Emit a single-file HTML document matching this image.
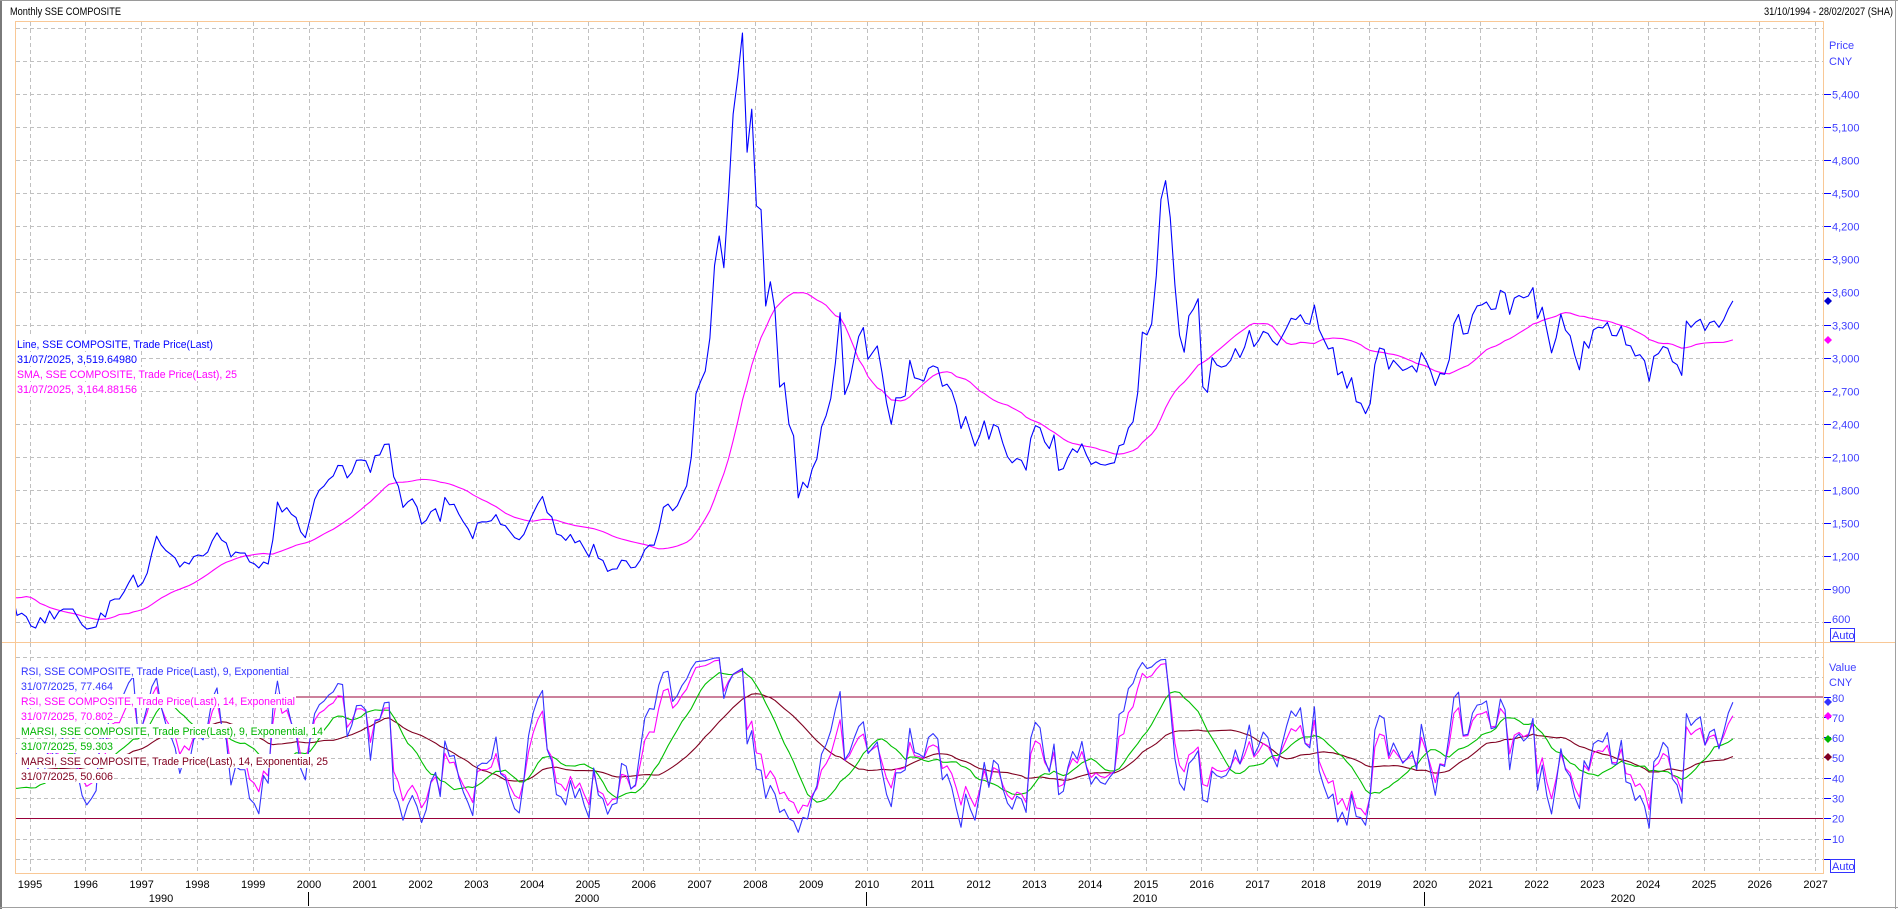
<!DOCTYPE html>
<html><head><meta charset="utf-8">
<style>
html,body{margin:0;padding:0;background:#fff;overflow:hidden;}
svg{display:block;font-family:"Liberation Sans",Arial,sans-serif;font-size:11px;}
</style></head>
<body>
<svg id="s" width="1898" height="909" viewBox="0 0 1898 909" xmlns="http://www.w3.org/2000/svg">
<defs>
<clipPath id="ct"><rect x="16" y="22" width="1807" height="620"/></clipPath>
<clipPath id="cb"><rect x="16" y="643" width="1807" height="230"/></clipPath>
</defs>
<rect width="1898" height="909" fill="#fff"/>
<!-- window frame -->
<rect x="0" y="0" width="2" height="909" fill="#7a7a7a"/>
<rect x="0" y="0" width="1898" height="1" fill="#9a9a9a"/>
<rect x="1895" y="0" width="1" height="909" fill="#a0a0a0"/>
<rect x="0" y="907" width="1898" height="1" fill="#a0a0a0"/>

<!-- header -->
<text x="10" y="15" fill="#000" textLength="111" lengthAdjust="spacingAndGlyphs">Monthly SSE COMPOSITE</text>
<text x="1764" y="15" fill="#000" textLength="129" lengthAdjust="spacingAndGlyphs">31/10/1994 - 28/02/2027 (SHA)</text>

<!-- grid -->
<g id="grid" stroke="#c0c0c0" stroke-width="1" stroke-dasharray="4,3" shape-rendering="crispEdges" fill="none"></g>

<!-- reference lines 80 / 20 -->
<g stroke="#99003a" stroke-width="1.3" shape-rendering="crispEdges">
<line x1="15" y1="697" x2="1823" y2="697"/>
<line x1="15" y1="818.5" x2="1823" y2="818.5"/>
</g>

<!-- series -->
<g id="top" clip-path="url(#ct)" fill="none" stroke-width="1.1" stroke-linejoin="round"></g>
<g id="bot" clip-path="url(#cb)" fill="none" stroke-width="1.1" stroke-linejoin="round"></g>

<!-- panel borders -->
<g stroke="#f9c896" stroke-width="1" shape-rendering="crispEdges">
<line x1="15" y1="21.5" x2="1823" y2="21.5"/>
<line x1="15.5" y1="21" x2="15.5" y2="874"/>
<line x1="1823.5" y1="21" x2="1823.5" y2="874"/>
<line x1="2" y1="642.5" x2="1895" y2="642.5"/>
<line x1="15" y1="873.5" x2="1824" y2="873.5"/>
</g>

<!-- top legend -->
<g>
<rect x="16" y="337" width="199" height="14" fill="#fff"/>
<rect x="16" y="352" width="123" height="14" fill="#fff"/>
<rect x="16" y="367" width="223" height="14" fill="#fff"/>
<rect x="16" y="382" width="123" height="14" fill="#fff"/>
<text x="17" y="348" fill="#0000ff" textLength="196" lengthAdjust="spacingAndGlyphs">Line, SSE COMPOSITE, Trade Price(Last)</text>
<text x="17" y="363" fill="#0000ff" textLength="120" lengthAdjust="spacingAndGlyphs">31/07/2025, 3,519.64980</text>
<text x="17" y="378" fill="#ff00ff" textLength="220" lengthAdjust="spacingAndGlyphs">SMA, SSE COMPOSITE, Trade Price(Last),  25</text>
<text x="17" y="393" fill="#ff00ff" textLength="120" lengthAdjust="spacingAndGlyphs">31/07/2025, 3,164.88156</text>
</g>

<!-- bottom legend -->
<g>
<rect x="16" y="664" width="274" height="14" fill="#fff"/>
<rect x="16" y="679" width="98" height="14" fill="#fff"/>
<rect x="16" y="694" width="280" height="14" fill="#fff"/>
<rect x="16" y="709" width="98" height="14" fill="#fff"/>
<rect x="16" y="724" width="308" height="14" fill="#fff"/>
<rect x="16" y="739" width="98" height="14" fill="#fff"/>
<rect x="16" y="754" width="313" height="14" fill="#fff"/>
<rect x="16" y="769" width="98" height="14" fill="#fff"/>
<text x="21" y="675" fill="#3333ff" textLength="268" lengthAdjust="spacingAndGlyphs">RSI, SSE COMPOSITE, Trade Price(Last),  9, Exponential</text>
<text x="21" y="690" fill="#3333ff" textLength="92" lengthAdjust="spacingAndGlyphs">31/07/2025, 77.464</text>
<text x="21" y="705" fill="#ff00ff" textLength="274" lengthAdjust="spacingAndGlyphs">RSI, SSE COMPOSITE, Trade Price(Last),  14, Exponential</text>
<text x="21" y="720" fill="#ff00ff" textLength="92" lengthAdjust="spacingAndGlyphs">31/07/2025, 70.802</text>
<text x="21" y="735" fill="#00b400" textLength="302" lengthAdjust="spacingAndGlyphs">MARSI, SSE COMPOSITE, Trade Price(Last),  9, Exponential, 14</text>
<text x="21" y="750" fill="#00b400" textLength="92" lengthAdjust="spacingAndGlyphs">31/07/2025, 59.303</text>
<text x="21" y="765" fill="#800020" textLength="307" lengthAdjust="spacingAndGlyphs">MARSI, SSE COMPOSITE, Trade Price(Last),  14, Exponential, 25</text>
<text x="21" y="780" fill="#800020" textLength="92" lengthAdjust="spacingAndGlyphs">31/07/2025, 50.606</text>
</g>

<!-- right axis, top -->
<g fill="#4040ff">
<text x="1829" y="49">Price</text>
<text x="1829" y="65">CNY</text>
<text x="1832" y="98.5">5,400</text>
<text x="1832" y="131.5">5,100</text>
<text x="1832" y="164.5">4,800</text>
<text x="1832" y="197.5">4,500</text>
<text x="1832" y="230.5">4,200</text>
<text x="1832" y="263.5">3,900</text>
<text x="1832" y="296.5">3,600</text>
<text x="1832" y="329.5">3,300</text>
<text x="1832" y="362.5">3,000</text>
<text x="1832" y="395.5">2,700</text>
<text x="1832" y="428.5">2,400</text>
<text x="1832" y="461.5">2,100</text>
<text x="1832" y="494.5">1,800</text>
<text x="1832" y="527.5">1,500</text>
<text x="1832" y="560.5">1,200</text>
<text x="1832" y="593.5">900</text>
<text x="1832" y="623">600</text>
</g>
<g stroke="#0000ff" stroke-width="1" shape-rendering="crispEdges">
<line x1="1824" y1="94.5" x2="1831" y2="94.5"/>
<line x1="1824" y1="127.5" x2="1831" y2="127.5"/>
<line x1="1824" y1="160.5" x2="1831" y2="160.5"/>
<line x1="1824" y1="193.5" x2="1831" y2="193.5"/>
<line x1="1824" y1="226.5" x2="1831" y2="226.5"/>
<line x1="1824" y1="259.5" x2="1831" y2="259.5"/>
<line x1="1824" y1="292.5" x2="1831" y2="292.5"/>
<line x1="1824" y1="325.5" x2="1831" y2="325.5"/>
<line x1="1824" y1="358.5" x2="1831" y2="358.5"/>
<line x1="1824" y1="391.5" x2="1831" y2="391.5"/>
<line x1="1824" y1="424.5" x2="1831" y2="424.5"/>
<line x1="1824" y1="457.5" x2="1831" y2="457.5"/>
<line x1="1824" y1="490.5" x2="1831" y2="490.5"/>
<line x1="1824" y1="523.5" x2="1831" y2="523.5"/>
<line x1="1824" y1="556.5" x2="1831" y2="556.5"/>
<line x1="1824" y1="589.5" x2="1831" y2="589.5"/>
<line x1="1824" y1="622.5" x2="1831" y2="622.5"/>
<!-- bottom ticks -->
<line x1="1824" y1="697.5" x2="1831" y2="697.5"/>
<line x1="1824" y1="717.5" x2="1831" y2="717.5"/>
<line x1="1824" y1="737.5" x2="1831" y2="737.5"/>
<line x1="1824" y1="757.5" x2="1831" y2="757.5"/>
<line x1="1824" y1="778.5" x2="1831" y2="778.5"/>
<line x1="1824" y1="798.5" x2="1831" y2="798.5"/>
<line x1="1824" y1="818.5" x2="1831" y2="818.5"/>
<line x1="1824" y1="839.5" x2="1831" y2="839.5"/>
<line x1="1824" y1="859.5" x2="1831" y2="859.5"/>
</g>
<rect x="1830.5" y="628.5" width="24" height="13" fill="#fff" stroke="#3333ff" stroke-width="1"/>
<text x="1832" y="639" fill="#3333ff">Auto</text>

<!-- right axis, bottom -->
<g fill="#4040ff">
<text x="1829" y="671">Value</text>
<text x="1829" y="686">CNY</text>
<text x="1832" y="702">80</text>
<text x="1832" y="722">70</text>
<text x="1832" y="742">60</text>
<text x="1832" y="762">50</text>
<text x="1832" y="782.5">40</text>
<text x="1832" y="802.5">30</text>
<text x="1832" y="822.5">20</text>
<text x="1832" y="843">10</text>
</g>
<rect x="1830.5" y="859.5" width="24" height="13" fill="#fff" stroke="#3333ff" stroke-width="1"/>
<text x="1832" y="870" fill="#3333ff">Auto</text>

<!-- markers -->
<polygon points="1828,297 1832,301 1828,305 1824,301" fill="#0000cc"/>
<polygon points="1828,336 1832,340 1828,344 1824,340" fill="#ff00ff"/>
<polygon points="1828,698 1832,702 1828,706 1824,702" fill="#3333ff"/>
<polygon points="1828,712 1832,716 1828,720 1824,716" fill="#ff00ff"/>
<polygon points="1828,735 1832,739 1828,743 1824,739" fill="#00b400"/>
<polygon points="1828,753 1832,757 1828,761 1824,757" fill="#800020"/>

<!-- x axis labels -->
<g fill="#000" text-anchor="middle">
<text x="30" y="888">1995</text>
<text x="85.8" y="888">1996</text>
<text x="141.6" y="888">1997</text>
<text x="197.4" y="888">1998</text>
<text x="253.2" y="888">1999</text>
<text x="309" y="888">2000</text>
<text x="364.8" y="888">2001</text>
<text x="420.6" y="888">2002</text>
<text x="476.4" y="888">2003</text>
<text x="532.2" y="888">2004</text>
<text x="588" y="888">2005</text>
<text x="643.8" y="888">2006</text>
<text x="699.6" y="888">2007</text>
<text x="755.4" y="888">2008</text>
<text x="811.2" y="888">2009</text>
<text x="867" y="888">2010</text>
<text x="922.8" y="888">2011</text>
<text x="978.6" y="888">2012</text>
<text x="1034.4" y="888">2013</text>
<text x="1090.2" y="888">2014</text>
<text x="1146" y="888">2015</text>
<text x="1201.8" y="888">2016</text>
<text x="1257.6" y="888">2017</text>
<text x="1313.4" y="888">2018</text>
<text x="1369.2" y="888">2019</text>
<text x="1425" y="888">2020</text>
<text x="1480.8" y="888">2021</text>
<text x="1536.6" y="888">2022</text>
<text x="1592.4" y="888">2023</text>
<text x="1648.2" y="888">2024</text>
<text x="1704" y="888">2025</text>
<text x="1759.8" y="888">2026</text>
<text x="1815.6" y="888">2027</text>
<text x="161" y="902">1990</text>
<text x="587" y="902">2000</text>
<text x="1145" y="902">2010</text>
<text x="1623" y="902">2020</text>
</g>
<g stroke="#000" stroke-width="1" shape-rendering="crispEdges">
<line x1="308.5" y1="892" x2="308.5" y2="906"/>
<line x1="866.5" y1="892" x2="866.5" y2="906"/>
<line x1="1424.5" y1="892" x2="1424.5" y2="906"/>
</g>
</svg>
<script>
(function(){
var NS="http://www.w3.org/2000/svg";
var P=[
293,330,370,445,1266,1150,1030,820,700,600,450,780,
1150,1400,1000,1200,950,1000,1000,950,920,900,900,833,
770,790,690,590,560,470,333,750,860,660,680,648,
564,545,640,590,700,627,695,718,718,718,645,573,
536,545,555,682,645,791,809,809,873,955,1027,918,
955,1045,1227,1380,1300,1250,1218,1182,1100,1145,1127,1194,
1209,1200,1236,1340,1411,1345,1318,1191,1236,1227,1227,1147,
1130,1091,1145,1127,1345,1690,1600,1640,1580,1550,1420,1367,
1535,1714,1800,1836,1894,1928,2023,2021,1910,1961,2070,2073,
2065,1960,2112,2119,2214,2218,1920,1834,1642,1690,1720,1646,
1490,1524,1603,1630,1515,1732,1666,1670,1581,1508,1447,1358,
1500,1511,1510,1521,1576,1487,1476,1421,1367,1348,1397,1497,
1590,1675,1741,1595,1555,1400,1386,1342,1396,1320,1340,1266,
1191,1306,1181,1159,1060,1080,1083,1162,1155,1092,1099,1161,
1258,1299,1298,1440,1642,1672,1612,1658,1752,1837,2099,2675,
2786,2881,3183,3841,4109,3821,4471,5218,5552,5954,4871,5262,
4383,4348,3473,3693,3433,2736,2775,2397,2293,1729,1871,1821,
1991,2082,2373,2477,2633,2959,3412,2668,2779,2996,3195,3277,
2989,3051,3110,2871,2592,2398,2638,2638,2656,2979,2820,2808,
2790,2905,2928,2911,2743,2762,2701,2568,2359,2468,2333,2199,
2292,2428,2262,2396,2372,2225,2103,2047,2086,2069,1980,2269,
2385,2365,2237,2177,2300,1979,1994,2098,2175,2141,2220,2116,
2033,2056,2033,2026,2039,2048,2202,2217,2364,2420,2683,3235,
3210,3310,3748,4441,4612,4277,3664,3206,3053,3383,3446,3539,
2738,2688,3004,2938,2917,2930,2979,3085,3005,3100,3250,3104,
3159,3242,3223,3155,3117,3192,3273,3361,3349,3393,3317,3307,
3481,3259,3169,3082,3095,2847,2876,2725,2821,2603,2588,2494,
2585,2941,3091,3078,2899,2979,2933,2886,2905,2929,2872,3050,
2977,2880,2750,2860,2852,2985,3310,3396,3218,3225,3392,3473,
3483,3509,3441,3447,3615,3591,3397,3544,3568,3547,3564,3640,
3361,3462,3252,3047,3186,3399,3253,3202,3024,2893,3151,3089,
3256,3280,3273,3323,3205,3202,3291,3120,3110,3018,3030,2975,
2789,3015,3041,3105,3087,2967,2939,2842,3336,3279,3326,3352,
3250,3321,3336,3279,3347,3444,3519.65];
var N=P.length;
function X(i){return 30+(i/12-3)*55.8+1;}
function YP(p){return 688-0.11*p;}
function YR(v){return 859-2.025*v;}
var FROM=30;
function mk(arr,fy,col,g){
  var s="";
  for(var i=FROM;i<arr.length;i++){
    if(arr[i]==null)continue;
    s+=(s?"L":"M")+X(i).toFixed(2)+" "+fy(arr[i]).toFixed(2);
  }
  var p=document.createElementNS(NS,"path");
  p.setAttribute("d",s);p.setAttribute("stroke",col);
  g.appendChild(p);
}
// grid
var grid=document.getElementById("grid");
var gs="";
for(var y=1995;y<=2027;y++){
  var x=Math.floor(30+(y-1995)*55.8)+0.5;
  gs+="M"+x+" 22V642M"+x+" 643V873";
}
for(var v=600;v<=6000;v+=300){
  var yy=Math.round(688-0.11*v)+0.5;
  gs+="M16 "+yy+"H1823";
}
for(var r=0;r<=100;r+=10){
  var yy2=Math.round(859-2.025*r)+0.5;
  if(r==80||r==20)continue;
  gs+="M16 "+yy2+"H1823";
}
var gp=document.createElementNS(NS,"path");gp.setAttribute("d",gs);grid.appendChild(gp);

// SMA 25
var sma=[];
for(var i=0;i<N;i++){
  if(i<24){sma.push(null);continue;}
  var s=0;for(var k=i-24;k<=i;k++)s+=P[k];
  sma.push(s/25);
}
function rsi(n){
  var a=2/(n+1),U=0,D=0,out=[null];
  for(var i=1;i<N;i++){
    var d=P[i]-P[i-1],u=d>0?d:0,dn=d<0?-d:0;
    if(i==1){U=u;D=dn;}else{U=a*u+(1-a)*U;D=a*dn+(1-a)*D;}
    out.push(U+D>0?100*U/(U+D):50);
  }
  return out;
}
function smaArr(arr,m){
  var out=[];
  for(var i=0;i<arr.length;i++){
    var s=0,c=0;
    for(var k=Math.max(0,i-m+1);k<=i;k++){if(arr[k]!=null){s+=arr[k];c++;}}
    out.push(c>0?s/c:null);
  }
  return out;
}
var r9=rsi(9),r14=rsi(14),m9=smaArr(r9,14),m14=smaArr(r14,25);
var top=document.getElementById("top"),bot=document.getElementById("bot");
mk(sma,YP,"#ff00ff",top);
mk(P,YP,"#0000ff",top);
mk(m14,YR,"#800020",bot);
mk(m9,YR,"#00c000",bot);
mk(r14,YR,"#ff00ff",bot);
mk(r9,YR,"#3333ff",bot);
})();
</script>
</body></html>
